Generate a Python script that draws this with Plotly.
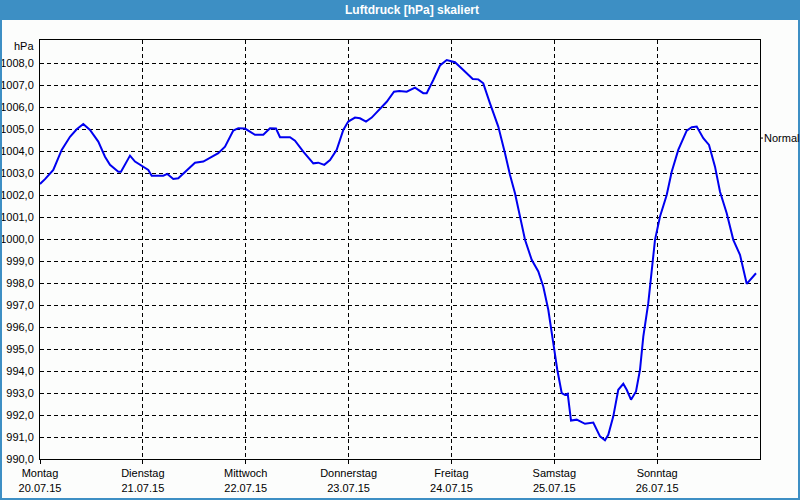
import pandas as pd
import plotly.graph_objects as go

# ---- data ----
start_date = "2015-07-20"
hours = [0, 1.17, 3.1, 5.06, 7.0, 8.56, 10.1, 11.67, 13.6, 15.17, 16.33, 18.27, 18.9, 21.0, 22.17,
         24.1, 25.27, 26.06, 28.77, 29.7, 31.1, 32.27, 34.23, 36.17, 38.1, 40.06, 41.6, 43.17, 45.1, 46.27,
         47.83, 50.17, 52.1, 53.67, 55.07, 56.0, 58.33, 59.5, 61.43, 63.77, 64.93, 66.33, 67.67, 69.23,
         70.77, 71.93, 73.5, 74.67, 76.07, 77.4, 79.33, 80.9, 82.6, 83.83, 85.57, 87.5, 89.43, 90.23,
         91.77, 93.33, 94.9, 96.83, 98.77, 100.97, 102.27, 103.43, 105.0, 106.93, 108.5, 109.67,
         110.83, 112.0, 113.17, 114.73, 116.27, 117.43, 118.6, 119.77, 120.7, 121.73, 122.5, 123.13,
         123.9, 125.23, 127.17, 129.1, 129.9, 130.67, 131.83, 132.6, 133.77, 134.93, 136.1, 136.9,
         137.9, 139.07, 140.0, 140.77, 141.93, 142.73, 143.5, 144.67, 146.23, 147.4, 148.93, 150.9,
         152.07, 153.23, 154.77, 156.1, 157.5, 158.67, 160.23, 161.77, 163.33, 164.9, 165.67, 167.07]
pressure = [1002.51, 1002.73, 1003.15, 1004.06, 1004.66, 1005.0, 1005.24, 1004.97, 1004.44, 1003.75,
            1003.38, 1003.07, 1003.07, 1003.8, 1003.53,
            1003.3, 1003.15, 1002.89, 1002.89, 1002.97, 1002.74, 1002.77, 1003.15, 1003.48, 1003.53,
            1003.75, 1003.91, 1004.21, 1004.94, 1005.05,
            1005.03, 1004.75, 1004.75, 1005.04, 1005.03, 1004.64, 1004.64, 1004.48, 1003.98, 1003.45,
            1003.48, 1003.38, 1003.6, 1004.06,
            1004.97, 1005.35, 1005.53, 1005.5, 1005.35, 1005.53, 1005.95, 1006.25, 1006.71, 1006.74,
            1006.71, 1006.89, 1006.64, 1006.64,
            1007.24, 1007.9, 1008.15, 1008.05, 1007.7, 1007.29, 1007.27, 1007.09, 1006.18, 1005.12,
            1003.91, 1002.92,
            1002.09, 1001.03, 999.97, 999.06, 998.53, 997.85, 996.79, 995.27, 994.06, 993.0, 992.92,
            992.97,
            991.75, 991.79, 991.6, 991.66, 991.3, 991.03, 990.85, 991.1, 991.94, 993.15, 993.42, 993.15,
            992.7, 993.07, 994.06, 995.57, 997.09, 998.6, 999.97, 1001.03, 1002.01, 1003.07, 1004.06,
            1004.94,
            1005.09, 1005.12, 1004.59, 1004.29, 1003.3, 1002.16, 1001.18, 999.97, 999.29, 997.97,
            998.15, 998.45]
day_names = ["Montag", "Dienstag", "Mittwoch", "Donnerstag", "Freitag", "Samstag", "Sonntag"]
day_dates = ["20.07.15", "21.07.15", "22.07.15", "23.07.15", "24.07.15", "25.07.15", "26.07.15"]
y_ticks = [990, 991, 992, 993, 994, 995, 996, 997, 998, 999, 1000, 1001, 1002, 1003, 1004, 1005,
           1006, 1007, 1008]
normal_pressure = 1004.6
title_text = "Luftdruck [hPa] skaliert"
unit_text = "hPa"

# ---- build ----
t0 = pd.Timestamp(start_date)
times = t0 + pd.to_timedelta(hours, unit="h")
tick_days = [t0 + pd.Timedelta(days=i) for i in range(len(day_names))]
tick_text = [f"{n}<br>{d}" for n, d in zip(day_names, day_dates)]

W, H = 800, 500
ML, MR, MT, MB = 40, 40, 40, 41
PW, PH = W - ML - MR, H - MT - MB


def px(x):
    return (x - ML) / PW


def py(y):
    return (H - MB - y) / PH


BLUE = "#3d8fc4"
BG = "#fcfdfc"
FONT = "Liberation Sans"

fig = go.Figure()
fig.add_trace(go.Scatter(x=times, y=pressure, mode="lines",
                         line=dict(color="#0000f0", width=2), showlegend=False,
                         hoverinfo="skip"))

grid = dict(showgrid=True, gridcolor="#000000", gridwidth=1, griddash="4px,3px")
fig.update_xaxes(type="date", range=[t0, t0 + pd.Timedelta(days=7)], automargin=False,
                 tickvals=tick_days, ticktext=tick_text, ticks="outside", ticklen=4,
                 tickcolor="#000000", showline=True, linecolor="#000000", linewidth=1,
                 mirror=True, zeroline=False, tickfont=dict(family=FONT, size=11, color="#000"),
                 **grid)
fig.update_yaxes(range=[990, 1009.06], tickvals=y_ticks, tickformat=".1f", ticks="",
                 automargin=False,
                 showline=True, linecolor="#000000", linewidth=1, mirror=True, zeroline=False,
                 ticklabelstandoff=3,
                 tickfont=dict(family=FONT, size=11, color="#000"), **grid)

shapes = [
    dict(type="rect", xref="paper", yref="paper", x0=px(0), x1=px(W), y0=py(20), y1=py(0),
         fillcolor=BLUE, line=dict(width=0), layer="above"),
    dict(type="rect", xref="paper", yref="paper", x0=px(1), x1=px(799), y0=py(499), y1=py(19),
         fillcolor="rgba(0,0,0,0)", line=dict(color=BLUE, width=2), layer="above"),
    dict(type="line", xref="paper", yref="y", x0=1, x1=px(763), y0=normal_pressure,
         y1=normal_pressure, line=dict(color="#000000", width=1)),
]
annotations = [
    dict(text=f"<b>{title_text}</b>", xref="paper", yref="paper", x=px(412), y=py(10),
         showarrow=False, font=dict(family=FONT, size=12, color="#ffffff"),
         xanchor="center", yanchor="middle"),
    dict(text=unit_text, xref="paper", yref="paper", x=px(36), y=py(46), showarrow=False,
         font=dict(family=FONT, size=11, color="#000"), xanchor="right", yanchor="middle"),
    dict(text="Normal", xref="paper", yref="y", x=px(762), y=normal_pressure, showarrow=False,
         font=dict(family=FONT, size=11, color="#000"), xanchor="left", yanchor="middle"),
]

fig.update_layout(width=W, height=H, margin=dict(l=ML, r=MR, t=MT, b=MB),
                  paper_bgcolor=BG, plot_bgcolor=BG, separators=",.",
                  shapes=shapes, annotations=annotations,
                  font=dict(family=FONT, size=11, color="#000"))

fig.write_html("out.html")
